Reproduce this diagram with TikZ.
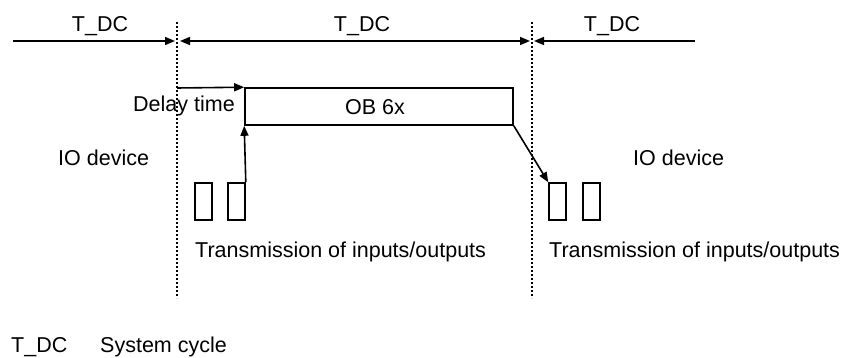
\documentclass[tikz,border=0pt]{standalone}
\usepackage{fontspec}
\setmainfont{Liberation Sans}
\usetikzlibrary{arrows.meta}
\begin{document}
\begin{tikzpicture}[x=1pt,y=-1pt,
  lbl/.style={inner sep=0pt,anchor=base west,font=\fontsize{21.5}{24}\selectfont},
  lblc/.style={inner sep=0pt,anchor=base,font=\fontsize{21.5}{24}\selectfont},
  arr/.style={line width=1.6pt,-{Triangle[length=10pt,width=8pt]}},
  dotline/.style={line width=1.8pt,dash pattern=on 2pt off 2pt},
  blk/.style={draw,line width=1.6pt,inner sep=0pt,minimum width=17pt,minimum height=37pt}]
\useasboundingbox (0,0) rectangle (845,358);
% dotted separators
\coordinate (d1t) at (177,22); \coordinate (d1b) at (177,298);
\coordinate (d2t) at (532,22); \coordinate (d2b) at (532,298);
\draw[dotline] (d1t) -- (d1b);
\draw[dotline] (d2t) -- (d2b);
% top T_DC arrows
\coordinate (a1s) at (13,41); \coordinate (a1e) at (175,41);
\coordinate (a2s) at (180,41); \coordinate (a2e) at (530,41);
\coordinate (a3s) at (695,41); \coordinate (a3e) at (534,41);
\draw[arr] (a1s) -- (a1e);
\draw[arr,{Triangle[length=10pt,width=8pt]}-{Triangle[length=10pt,width=8pt]}] (a2s) -- (a2e);
\draw[arr] (a3s) -- (a3e);
\node[lblc] (t1) at (100,32) {T\_DC};
\node[lblc] (t2) at (362,32) {T\_DC};
\node[lblc] (t3) at (612,32) {T\_DC};
% OB box
\node[draw,line width=1.6pt,inner sep=0pt,minimum width=268pt,minimum height=37pt] (ob) at (379,106.5) {};
\node[lblc] (obt) at (375,115) {OB 6x};
% delay time
\coordinate (dts) at (177,88);
\draw[arr] (dts) -- (ob.north west);
\node[lbl] (dt) at (133,112) {Delay time};
% IO device labels
\node[lbl] (io1) at (58,166) {IO device};
\node[lbl] (io2) at (633,166) {IO device};
% small blocks
\node[blk] (b1) at (203.5,201.5) {};
\node[blk] (b2) at (236.5,201.5) {};
\node[blk] (b3) at (557.5,201.5) {};
\node[blk] (b4) at (591.5,201.5) {};
\draw[arr] (b2.north east) -- (ob.south west);
\draw[arr] (ob.south east) -- (b3.north west);
% transmission labels
\node[lbl] (tr1) at (195,257.5) {Transmission of inputs/outputs};
\node[lbl] (tr2) at (549,257.5) {Transmission of inputs/outputs};
% legend
\node[lbl] (lg1) at (11,352) {T\_DC};
\node[lbl] (lg2) at (100,352) {System cycle};
\end{tikzpicture}
\end{document}
